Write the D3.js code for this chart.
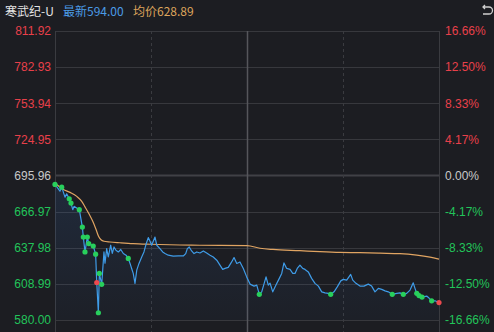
<!DOCTYPE html>
<html>
<head>
<meta charset="utf-8">
<script src="https://cdn.jsdelivr.net/npm/d3@7"></script>
<style>
  body { margin: 0; background: #1c1d22; }
  svg { display: block; }
  text { font-family: "Liberation Sans", Arial, sans-serif; }
  .title text { font-family: "Noto Sans CJK SC", sans-serif; }
</style>
</head>
<body>
<svg></svg>
<script>
const size = {w: 494, h: 332};
const plot = {l: 55, r: 439, t: 31, b: 320};

// price ticks (left) and change ticks (right)
const priceTicks = [811.92, 782.93, 753.94, 724.95, 695.96, 666.97, 637.98, 608.99, 580.00];
const pctLabels = ['16.66%', '12.50%', '8.33%', '4.17%', '0.00%', '-4.17%', '-8.33%', '-12.50%', '-16.66%'];
const prevClose = 695.96;

// minute of session (0..240) and price
const priceMinutes = [0, 3.1, 4.2, 6.25, 7.3, 8.9, 10, 11.1, 11.9, 15.2, 17.1, 17.7, 18.75, 20.2, 21.1, 23.9, 25.4, 26.1, 27.1, 27.7, 29.2,
  30.6, 31.25, 32.3, 33.3, 34.8, 35.8, 36.9, 38.1, 39.6, 41.1, 42.7, 44.4, 45.8, 46.9, 47.9, 48.9, 50, 51.1, 52.5, 54.2, 55.6,
  56.9, 58.3, 59.4, 60.4, 61.4, 62.5, 63.6, 65.6, 67.3, 68.75, 70.8, 73.9, 77.1, 80.2, 81.7, 82.7, 83.9, 85.4, 86.9, 88.6,
  90.6, 92.7, 94.8, 96.9, 98.9, 101.1, 103.1, 104.8, 106.25, 108.3, 110.4, 111.9, 113.6, 115.6, 117.7, 119.8, 121.9, 124.4,
  126.1, 127.7, 129.2, 131.9, 133.3, 134.4, 136.1, 138.1, 140.2, 141.7, 143.1, 144.8, 146.9, 148.6, 150, 151.4, 153.1, 154.8,
  156.25, 158.3, 160.4, 162.5, 164.6, 166.7, 168.75, 170.8, 172.3, 174.4, 176.4, 177.7, 178.6, 180.2, 182.3, 184.8, 186.1,
  188.1, 190.6, 193.1, 195.8, 197.9, 200, 202.1, 204.2, 206.25, 208.3, 210.8, 213.6, 215.6, 217.7, 219.8, 221.9, 223.9, 225,
  226.1, 227.5, 229.4, 232.3, 233.75, 235.4, 237.5, 240];
const priceValues = [688.8, 683.4, 686.6, 678.6, 681.3, 677.3, 673.8, 668.5, 671.2, 668.5, 654.6, 646.6, 634.6, 646.6, 641.3, 639.4, 632.8, 610.1, 585.8, 617.4, 608.6,
  634.6, 625.6, 637.3, 630.6, 640.0, 633.4, 638.6, 636.0, 634.6, 636.6, 633.4, 632.0, 629.4, 625.4, 621.3, 617.4, 609.4, 620.0, 625.4, 630.6, 634.6,
  640.8, 646.1, 643.2, 640.0, 643.2, 646.6, 640.0, 637.3, 634.6, 633.3, 632.0, 631.2, 631.4, 631.4, 633.3, 637.3, 638.6, 635.4, 633.3, 634.6,
  633.8, 635.4, 633.8, 632.0, 630.6, 628.0, 624.0, 620.6, 621.4, 622.2, 626.6, 630.1, 625.4, 626.6, 621.3, 614.6, 608.8, 607.2,
  608.0, 600.6, 602.6, 614.6, 608.0, 609.6, 602.6, 608.0, 613.4, 617.4, 625.8, 621.4, 620.6, 617.4, 617.4, 621.4, 624.0, 621.4,
  620.6, 618.6, 613.4, 609.4, 607.2, 602.6, 601.8, 601.4, 600.6, 602.6, 606.6, 609.4, 611.4, 612.6, 612.0, 616.6, 612.0,
  609.4, 607.2, 607.2, 608.8, 607.2, 602.6, 605.4, 604.6, 603.4, 602.6, 600.6, 601.4, 601.8, 600.6, 601.4, 604.0, 609.8, 605.4,
  601.4, 599.6, 598.4, 599.2, 597.6, 595.4, 595.4, 594.0];

// average price line
const avgMinutes = [1, 5.2, 9.4, 13.6, 16.7, 18.75, 21.4, 23.6, 25.6, 27.2, 28.75, 30.6, 34.4, 40.6, 48.9, 59.4, 78.1, 90.6, 120,
  128.1, 136.25, 153.1, 165.6, 178.1, 190.6, 203.1, 215.6, 226.1, 234.4, 240];
const avgValues = [688.8, 684.8, 682.4, 679.2, 675.2, 670.8, 664.8, 659.2, 652.8, 647.2, 644.4, 643.2, 642.6, 642.0, 641.3, 640.8, 640.2, 640.0, 639.7,
  637.6, 636.6, 635.6, 634.8, 634.2, 634.0, 633.6, 633.2, 632.0, 630.4, 628.9];

// trade markers
const greenDotMinutes = [0, 4.2, 8.9, 10, 15.2, 17.1, 17.7, 18.75, 20.2, 21.1, 23.9, 25.4, 27.1, 27.7, 29.2, 45.8, 127.7, 172.3, 210.8, 217.7, 226.1, 227.5, 229.4, 235.4];
const redDotMinutes = [26.1, 240];

const lastPrice = 594.00;
const avgPrice = 628.89;

const svg = d3.select('svg').attr('width', size.w).attr('height', size.h);

const x = d3.scaleLinear().domain([0, 240]).range([plot.l, plot.r]);
const y = d3.scaleLinear().domain([580, 811.92]).range([plot.b, plot.t]);

const priceData = priceMinutes.map((m, i) => ({m: m, v: priceValues[i]}));
const avgData = avgMinutes.map((m, i) => ({m: m, v: avgValues[i]}));
const priceAt = m => priceData.find(d => d.m === m).v;

// --------- TITLE ----------
const titleG = svg.append('g').classed('title', true).attr('font-size', 12);
titleG.append('text').attr('x', 5).attr('y', 16).attr('fill', '#e4e4e4').text('寒武纪-U');
titleG.append('text').attr('x', 63).attr('y', 16).attr('fill', '#4b9be6').text('最新' + lastPrice.toFixed(2));
titleG.append('text').attr('x', 133).attr('y', 16).attr('fill', '#dca45c').text('均价' + avgPrice.toFixed(2));
// return icon
svg.append('path')
    .attr('d', 'M483,7 L489,7 A3.5,3.5 0 0 1 489,14 L483,14 M485,5 L483,7 L485,9')
    .attr('fill', 'none').attr('stroke', '#d0d0d0').attr('stroke-width', 1.3);

// --------- GRID ----------
const gridG = svg.append('g').classed('grid', true);
gridG.selectAll('line.h')
    .data(priceTicks)
    .join('line')
    .attr('class', 'h')
    .attr('x1', plot.l).attr('x2', plot.r)
    .attr('y1', d => Math.round(y(d)) + 0.5).attr('y2', d => Math.round(y(d)) + 0.5)
    .attr('stroke', d => d === prevClose ? '#404146' : '#37383d')
    .attr('stroke-width', d => d === prevClose ? 2.2 : 1);

const vLines = [0, 60, 120, 180, 240];
gridG.selectAll('line.v')
    .data(vLines)
    .join('line')
    .attr('class', 'v')
    .attr('x1', d => Math.round(x(d)) + 0.5).attr('x2', d => Math.round(x(d)) + 0.5)
    .attr('y1', plot.t).attr('y2', size.h)
    .attr('stroke', d => d === 120 ? '#55565b' : '#3a3b40')
    .attr('stroke-width', d => d === 120 ? 1.5 : 1)
    .attr('stroke-dasharray', d => (d === 60 || d === 180) ? '3,3' : null);

// --------- AXES ----------
const tickColor = d => d > prevClose ? '#e8404a' : (d < prevClose ? '#22c45a' : '#c8c8c8');

const leftAxis = svg.append('g')
    .attr('transform', `translate(${plot.l},0)`)
    .call(d3.axisLeft(y).tickValues(priceTicks).tickSize(0).tickPadding(4).tickFormat(d3.format('.2f')));
leftAxis.select('.domain').remove();
leftAxis.selectAll('text').attr('font-size', 12).attr('fill', d => tickColor(d));

const rightAxis = svg.append('g')
    .attr('transform', `translate(${plot.r},0)`)
    .call(d3.axisRight(y).tickValues(priceTicks).tickSize(0).tickPadding(6)
        .tickFormat((d, i) => pctLabels[i]));
rightAxis.select('.domain').remove();
rightAxis.selectAll('text').attr('font-size', 12).attr('fill', d => tickColor(d));

// --------- AREA + LINES ----------
const defs = svg.append('defs');
const grad = defs.append('linearGradient').attr('id', 'areaGrad')
    .attr('x1', 0).attr('y1', 0).attr('x2', 0).attr('y2', 1);
grad.append('stop').attr('offset', '0%').attr('stop-color', '#3a7bd5').attr('stop-opacity', 0.14);
grad.append('stop').attr('offset', '100%').attr('stop-color', '#3a7bd5').attr('stop-opacity', 0.03);

svg.append('path')
    .datum(priceData)
    .attr('d', d3.area().x(d => x(d.m)).y0(plot.b).y1(d => y(d.v)))
    .attr('fill', 'url(#areaGrad)');

svg.append('path')
    .datum(avgData)
    .attr('d', d3.line().x(d => x(d.m)).y(d => y(d.v)).curve(d3.curveMonotoneX))
    .attr('fill', 'none')
    .attr('stroke', '#e0a462')
    .attr('stroke-width', 1.2);

svg.append('path')
    .datum(priceData)
    .attr('d', d3.line().x(d => x(d.m)).y(d => y(d.v)))
    .attr('fill', 'none')
    .attr('stroke', '#3f9ce8')
    .attr('stroke-width', 1.2)
    .attr('stroke-linejoin', 'round');

// --------- MARKERS ----------
svg.append('g').selectAll('circle')
    .data(greenDotMinutes)
    .join('circle')
    .attr('cx', d => x(d)).attr('cy', d => y(priceAt(d)))
    .attr('r', 2.6)
    .attr('fill', '#28cf5c');

svg.append('g').selectAll('circle')
    .data(redDotMinutes)
    .join('circle')
    .attr('cx', d => x(d)).attr('cy', d => y(priceAt(d)))
    .attr('r', 2.6)
    .attr('fill', '#ec4a4f');
</script>
</body>
</html>
